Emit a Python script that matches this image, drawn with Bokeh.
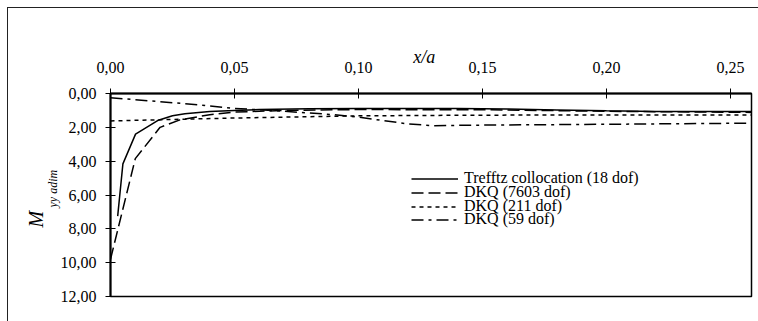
from bokeh.plotting import figure
from bokeh.models import (Range1d, FixedTicker, CustomJSTickFormatter, Legend, LegendItem, Title)
from bokeh.embed import file_html
from bokeh.resources import INLINE

# ---- data ----
x_ticks = [0.0, 0.05, 0.10, 0.15, 0.20, 0.25]
y_ticks = [0, 2, 4, 6, 8, 10, 12]

trefftz_x = [0.0029, 0.005, 0.0101, 0.019, 0.025, 0.03, 0.04, 0.05, 0.06, 0.08, 0.10, 0.12, 0.14, 0.16, 0.18, 0.20, 0.22, 0.24, 0.26]
trefftz_y = [7.25, 4.16, 2.40, 1.60, 1.32, 1.20, 1.06, 1.00, 0.95, 0.90, 0.88, 0.88, 0.88, 0.92, 0.97, 1.02, 1.06, 1.06, 1.06]

dkq7603_x = [0.0, 0.010, 0.020, 0.028, 0.040, 0.050, 0.070, 0.10, 0.15, 0.20, 0.26]
dkq7603_y = [9.80, 3.85, 2.00, 1.56, 1.25, 1.10, 1.00, 0.95, 0.96, 1.05, 1.12]

dkq211_x = [0.0, 0.05, 0.10, 0.15, 0.20, 0.26]
dkq211_y = [1.62, 1.45, 1.32, 1.28, 1.27, 1.27]

dkq59_x = [0.0, 0.03, 0.05, 0.07, 0.09, 0.10, 0.11, 0.12, 0.13, 0.15, 0.20, 0.26]
dkq59_y = [0.25, 0.60, 0.88, 1.05, 1.25, 1.40, 1.60, 1.80, 1.90, 1.87, 1.82, 1.75]

labels = ["Trefftz collocation (18 dof)", "DKQ (7603 dof)", "DKQ (211 dof)", "DKQ (59 dof)"]
x_title = "x/a"
y_title_main = "M"
y_title_sub = "yy adim"

FONT = "Liberation Serif"

p = figure(width=750, height=313, output_backend="svg", toolbar_location=None,
           x_range=Range1d(0, 0.2585), y_range=Range1d(12, 0),
           x_axis_location="above", y_axis_location="left",
           min_border_left=102, min_border_right=7, min_border_top=85, min_border_bottom=25)
p.margin = (8, 0, 0, 8)
p.styles = {"outline": "1px solid #222"}
p.grid.visible = False
p.outline_line_color = "black"
p.outline_line_width = 1.5
p.background_fill_color = "white"
p.border_fill_color = "white"

fmt = CustomJSTickFormatter(code="return tick.toFixed(2).replace('.', ',');")
for ax in (p.xaxis[0], p.yaxis[0]):
    ax.formatter = fmt
    ax.axis_line_width = 2
    ax.axis_line_color = "black"
    ax.major_tick_line_color = "black"
    ax.major_tick_in = 5
    ax.major_tick_out = 5
    ax.minor_tick_line_color = None
    ax.major_label_text_font = FONT
    ax.major_label_text_font_size = "16px"
    ax.major_label_text_color = "black"
p.xaxis[0].ticker = FixedTicker(ticks=x_ticks)
p.yaxis[0].ticker = FixedTicker(ticks=y_ticks)
p.xaxis[0].major_label_standoff = 16
p.yaxis[0].major_label_standoff = 9

# x-axis title (non-breaking spaces nudge the centred title a little to the left, as in the reference)
p.xaxis[0].axis_label = x_title + "\u00a0\u00a0\u00a0"
p.xaxis[0].axis_label_text_font = FONT
p.xaxis[0].axis_label_text_font_style = "italic"
p.xaxis[0].axis_label_text_font_size = "18px"
p.xaxis[0].axis_label_text_color = "black"
p.xaxis[0].axis_label_standoff = -8

r1 = p.line(trefftz_x, trefftz_y, line_color="black", line_width=1.5)
r2 = p.line(dkq7603_x, dkq7603_y, line_color="black", line_width=1.5, line_dash="12 5")
r3 = p.line(dkq211_x, dkq211_y, line_color="black", line_width=1.5, line_dash="4 4")
r4 = p.line(dkq59_x, dkq59_y, line_color="black", line_width=1.5, line_dash="12 5 3 5")

# one single-entry legend per series, so the rows can sit as tightly as in the reference
legend_offsets = [109, 95, 81, 68]
for lab, r, off in zip(labels, [r1, r2, r3, r4], legend_offsets):
    lg = Legend(items=[LegendItem(label=lab, renderers=[r])],
                location=(301, off), padding=0, margin=0, spacing=0,
                glyph_width=47, glyph_height=13, label_standoff=6,
                label_text_font=FONT, label_text_font_size="16px", label_text_color="black",
                border_line_color=None, background_fill_alpha=0)
    p.add_layout(lg)

# y-axis title: M with subscript "yy adim", as two side-panel titles
p.add_layout(Title(text=y_title_sub, align="left", offset=89, standoff=-4, text_font=FONT,
                   text_font_style="italic", text_font_size="12px", text_color="black"), "left")
p.add_layout(Title(text=y_title_main, align="left", offset=69, standoff=-3, text_font=FONT,
                   text_font_style="italic", text_font_size="20px", text_color="black"), "left")

open("out.html", "w").write(file_html(p, INLINE))
